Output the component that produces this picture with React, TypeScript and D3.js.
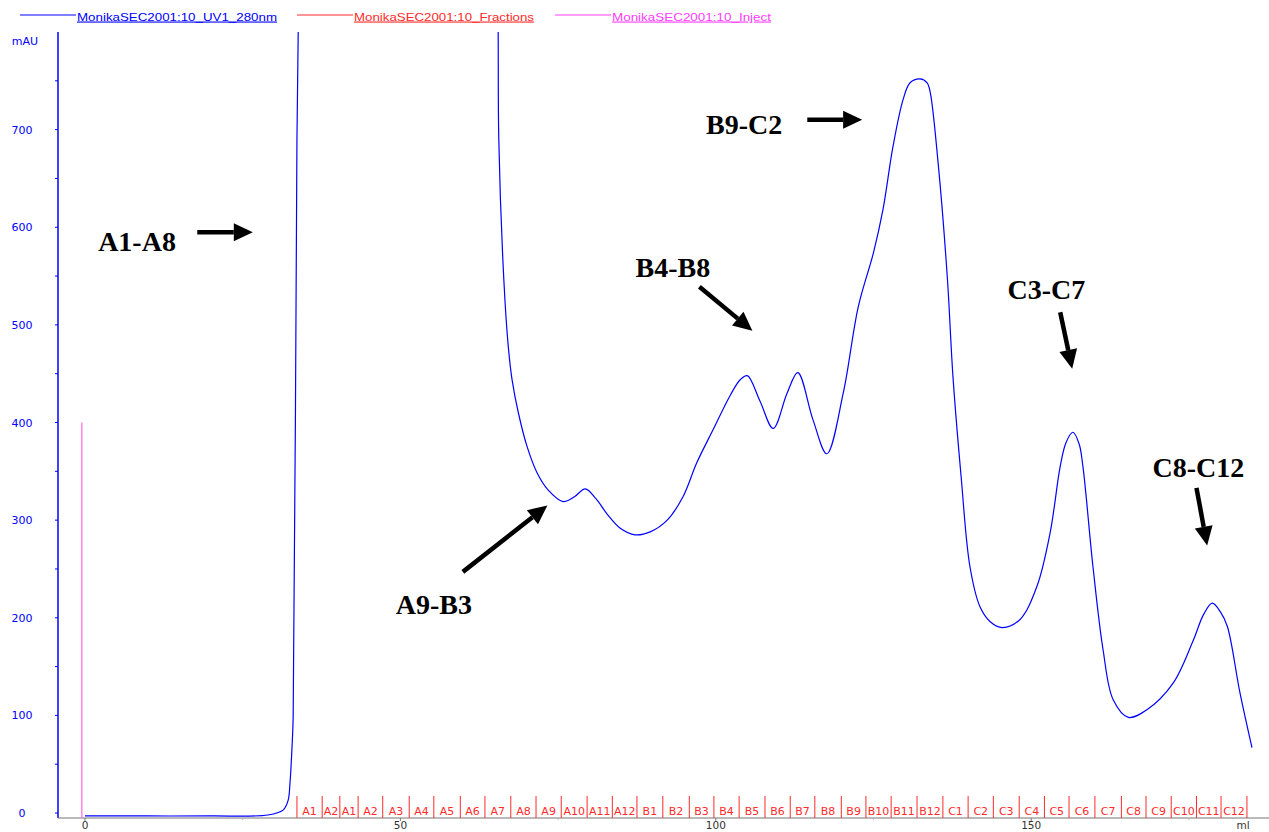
import * as d3 from "d3";

// UV 280 nm trace (ml, mAU); values above 800 are off scale
const volume = [
  0, 10, 20, 29, 31.4, 32.2, 32.5, 32.8, 33.0, 33.6, 33.8, 34.2, 49, 65.0, 65.5, 65.6,
  66.4, 67.1, 67.7, 68.7, 70.1, 71.7, 73.4, 75.8, 77.6, 79.3, 81.0, 82.8, 84.8, 87.2, 89.6, 92.3,
  94.8, 97.0, 99.6, 102.3, 103.9, 105.0, 107.0, 109.1, 111.3, 113.0, 115.4, 117.6, 120.2,
  122.6, 125.0, 126.5, 128.1, 129.7, 130.8, 132.4, 133.5, 134.0, 135.2, 136.7, 137.6,
  138.9, 140.3, 141.9, 143.5, 145.4, 148.2, 150.9, 153.0, 154.6, 155.5, 156.6, 157.6, 158.2, 159.8, 161.4,
  163.0, 165.4, 168.4, 172.5, 175.7, 177.3, 178.7, 180.0, 181.1, 183.1, 185.0,
];
const absorbance = [
  -3, -3, -3, -2, 3, 13, 31, 65, 98, 690, 800, 1300, 2200, 1300, 800, 690,
  546, 478, 444, 410, 375, 348, 331, 319, 324, 332, 322, 306, 292, 285, 288, 300,
  324, 359, 393, 428, 444, 448, 422, 394, 430, 451, 403, 368, 430,
  519, 574, 618, 683, 731, 748, 752, 748, 738, 669, 549, 447,
  344, 252, 211, 196, 190, 198, 232, 287, 355, 379, 390, 378, 355, 252, 167,
  116, 98, 106, 133, 177, 203, 215, 206, 191, 123, 67,
];

const fractionLabels = [
  "A1", "A2", "A1", "A2", "A3", "A4", "A5", "A6", "A7", "A8", "A9", "A10", "A11", "A12",
  "B1", "B2", "B3", "B4", "B5", "B6", "B7", "B8", "B9", "B10", "B11", "B12",
  "C1", "C2", "C3", "C4", "C5", "C6", "C7", "C8", "C9", "C10", "C11", "C12",
];
const fractionEdges = [
  33.6, 37.6, 40.4, 43.3, 47.2, 51.4, 55.3, 59.5, 63.4, 67.5, 71.5, 75.5, 79.6, 83.6,
  87.5, 91.6, 95.8, 99.7, 103.7, 107.8, 111.8, 115.7, 119.9, 123.8, 127.8, 131.9,
  136.0, 140.0, 144.0, 148.1, 152.1, 156.0, 160.1, 164.3, 168.2, 172.2, 176.2, 180.1, 184.2,
];
const injectVolume = -0.5;
const injectHeight = 400;

const xTicks = [0, 50, 100, 150];
const xMinorTicks = [25, 75, 125, 175];
const yTicks = [0, 100, 200, 300, 400, 500, 600, 700];
const yMinorTicks = [50, 150, 250, 350, 450, 550, 650, 750];

const seriesNames = [
  "MonikaSEC2001:10_UV1_280nm",
  "MonikaSEC2001:10_Fractions",
  "MonikaSEC2001:10_Inject",
];

// pooled fraction notes: label, label centre, arrow tail, arrow head (ml, mAU)
const noteLabels = ["A1-A8", "A9-B3", "B4-B8", "B9-C2", "C3-C7", "C8-C12"];
const noteAt = [[8.25, 576], [55.3, 204], [93.2, 549], [104.5, 696], [152.4, 527], [176.5, 344]];
const noteFrom = [[17.8, 595], [59.9, 247], [97.4, 539], [114.5, 710], [154.6, 513], [176.2, 333]];
const noteTo = [[26.6, 595], [73.3, 315], [105.8, 494], [123.2, 710], [156.5, 455], [177.9, 274]];

const W = 1269;
const H = 832;
const left = 58;
const top = 32;
const bottom = 818;

const blue = "#0000ff";
const red = "#ff2a2a";
const magenta = "#ff3cff";

const App = () => {
  const x = d3.scaleLinear().domain([-4.28, 187.7]).range([left, W]);
  const y = d3.scaleLinear().domain([-5.1, 800]).range([bottom, top]);

  const pts = volume.map((v, i) => [v, absorbance[i]] as [number, number]);
  const path = d3
    .line<[number, number]>()
    .x((d) => x(d[0]))
    .y((d) => y(d[1]))
    .curve(d3.curveCatmullRom.alpha(0.5))(pts);

  const legendColors = [blue, red, magenta];
  const legendX = [20, 297, 555];
  const legendW = [200, 180, 159];

  const arrowHead = (i: number) => {
    const x1 = x(noteFrom[i][0]), y1 = y(noteFrom[i][1]);
    const x2 = x(noteTo[i][0]), y2 = y(noteTo[i][1]);
    const a = Math.atan2(y2 - y1, x2 - x1);
    const len = 19, half = 9;
    const bx = x2 - len * Math.cos(a), by = y2 - len * Math.sin(a);
    const px = -Math.sin(a) * half, py = Math.cos(a) * half;
    return {
      line: [x1, y1, bx, by],
      head: `${x2},${y2} ${bx + px},${by + py} ${bx - px},${by - py}`,
    };
  };

  return (
    <svg
      width={W}
      height={H}
      style={{ position: "absolute", left: 0, top: 0, background: "#fff" }}
      fontFamily="'DejaVu Sans', sans-serif"
    >
      <defs>
        <clipPath id="plot">
          <rect x={left} y={top} width={W - left} height={bottom - top} />
        </clipPath>
      </defs>

      {/* legend */}
      {seriesNames.map((name, i) => (
        <g key={name}>
          <line x1={legendX[i]} x2={legendX[i] + 56} y1={15} y2={15} stroke={legendColors[i]} strokeWidth={1} />
          <text
            x={legendX[i] + 57}
            y={20.5}
            fontSize={11}
            fill={legendColors[i]}
            textDecoration="underline"
            textLength={legendW[i]}
            lengthAdjust="spacingAndGlyphs"
            fontFamily="'Liberation Sans', Arial, sans-serif"
          >
            {name}
          </text>
        </g>
      ))}

      {/* y axis */}
      <text x={25} y={45} fontSize={11} fill={blue} textAnchor="middle">mAU</text>
      <line x1={left} x2={left} y1={top} y2={bottom} stroke={blue} strokeWidth={1.5} />
      {yTicks.map((t) => (
        <g key={t}>
          <line x1={left - 3} x2={left} y1={y(t)} y2={y(t)} stroke={blue} />
          <text x={22} y={y(t) + 4} fontSize={11} fill={blue} textAnchor="middle">{t}</text>
        </g>
      ))}
      {yMinorTicks.map((t) => (
        <line key={t} x1={left - 3} x2={left} y1={y(t)} y2={y(t)} stroke={blue} />
      ))}

      {/* x axis */}
      <line x1={left} x2={W} y1={bottom} y2={bottom} stroke="#777" strokeWidth={1.2} />
      {xTicks.map((t) => (
        <g key={t}>
          <line x1={x(t)} x2={x(t)} y1={bottom} y2={bottom + 3} stroke="#777" />
          <text x={x(t)} y={829} fontSize={10.5} fill="#333" textAnchor="middle">{t}</text>
        </g>
      ))}
      {xMinorTicks.map((t) => (
        <line key={t} x1={x(t)} x2={x(t)} y1={bottom} y2={bottom + 2} stroke="#bbb" />
      ))}
      <text x={1243} y={829} fontSize={10.5} fill="#333" textAnchor="middle">ml</text>

      {/* fractions */}
      {fractionEdges.map((f, i) => (
        <line key={i} x1={x(f)} x2={x(f)} y1={796} y2={bottom} stroke={red} strokeWidth={1} />
      ))}
      {fractionLabels.map((lab, i) => (
        <text
          key={i}
          x={(x(fractionEdges[i]) + x(fractionEdges[i + 1])) / 2}
          y={815}
          fontSize={11}
          fill={red}
          textAnchor="middle"
        >
          {lab}
        </text>
      ))}

      {/* inject mark */}
      <line x1={x(injectVolume)} x2={x(injectVolume)} y1={y(injectHeight)} y2={bottom} stroke="#ff66e0" strokeWidth={1.2} />

      {/* UV trace */}
      <path d={path ?? ""} fill="none" stroke={blue} strokeWidth={1.2} clipPath="url(#plot)" />

      {/* annotations */}
      {noteLabels.map((lab, i) => {
        const a = arrowHead(i);
        return (
          <g key={lab}>
            <text
              x={x(noteAt[i][0])}
              y={y(noteAt[i][1])}
              fontSize={28}
              fontWeight="bold"
              textAnchor="middle"
              fontFamily="'Liberation Serif', 'Times New Roman', serif"
              fill="#000"
            >
              {lab}
            </text>
            <line x1={a.line[0]} y1={a.line[1]} x2={a.line[2]} y2={a.line[3]} stroke="#000" strokeWidth={4.5} />
            <polygon points={a.head} fill="#000" />
          </g>
        );
      })}
    </svg>
  );
};

export default App;
